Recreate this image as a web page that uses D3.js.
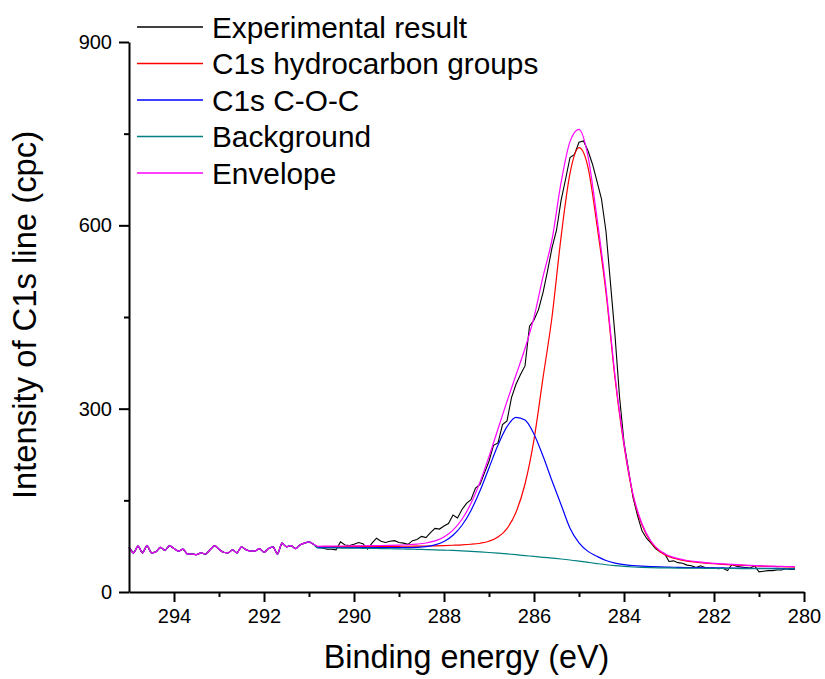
<!DOCTYPE html>
<html>
<head>
<meta charset="utf-8">
<script src="https://cdn.jsdelivr.net/npm/d3@7"></script>
<style>
  html, body { margin: 0; padding: 0; background: #fff; }
  svg { display: block; font-family: "Liberation Sans", Arial, sans-serif; }
</style>
</head>
<body>
<svg id="chart" width="825" height="679"></svg>
<script>
// ---------------- DATA ----------------
const seriesNames = ["Experimental result", "C1s hydrocarbon groups", "C1s C-O-C", "Background", "Envelope"];
const seriesColors = ["#000000", "#ff0000", "#0000ff", "#008080", "#ff00ff"];

const xTickMajor = [294, 292, 290, 288, 286, 284, 282, 280];
const xTickMinor = [293, 291, 289, 287, 285, 283, 281];
const yTickMajor = [0, 300, 600, 900];
const yTickMinor = [150, 450, 750];

const expEnergy = [
  295.0,294.9,294.8,294.7,294.6,294.5,294.4,294.3,294.2,294.1,
  294.0,293.9,293.8,293.7,293.6,293.5,293.4,293.3,293.2,293.1,
  293.0,292.9,292.8,292.7,292.6,292.5,292.4,292.3,292.2,292.1,
  292.0,291.9,291.8,291.7,291.6,291.5,291.4,291.3,291.2,291.1,
  291.0,290.9,290.8,290.7,290.6,290.5,290.4,290.3,290.2,290.1,
  290.0,289.9,289.8,289.7,289.6,289.5,289.4,289.3,289.2,289.1,
  289.0,288.9,288.8,288.7,288.6,288.5,288.4,288.3,288.2,288.1,
  288.0,287.9,287.8,287.7,287.6,287.5,287.4,287.3,287.2,287.1,
  287.0,286.9,286.8,286.7,286.6,286.5,286.4,286.3,286.2,286.1,
  286.0,285.9,285.8,285.7,285.6,285.5,285.4,285.3,285.2,285.1,
  285.0,284.9,284.8,284.7,284.6,284.5,284.4,284.3,284.2,284.1,
  284.0,283.9,283.8,283.7,283.6,283.5,283.4,283.3,283.2,283.1,
  283.0,282.9,282.8,282.7,282.6,282.5,282.4,282.3,282.2,282.1,
  282.0,281.9,281.8,281.7,281.6,281.5,281.4,281.3,281.2,281.1,
  281.0,280.9,280.8,280.7,280.6,280.5,280.4,280.3,280.2
];
const expIntensity = [
  73,64,75,64,76,64,66,73,68,76,
  71,67,70,62,62,61,64,62,69,76,
  70,65,64,69,64,74,69,67,67,71,
  65,71,74,62,80,74,76,71,77,80,
  82,78,73,72,70,70,69,82,77,76,
  78,81,79,70,80,88,83,81,83,84,
  81,80,78,84,86,91,89,97,104,103,
  108,112,126,121,135,145,151,170,176,195,
  214,240,244,274,280,318,340,356,370,435,
  445,462,490,525,563,592,640,675,711,716,
  736,738,722,700,672,643,590,505,420,320,
  245,200,155,125,100,88,80,71,66,63,
  50,51,48,47,44,43,40,43,40,39,
  39,38,39,35,45,42,41,40,39,43,
  33,34,35,35,36,36,38,37,37
];

const fitEnergy = [
  290.8,290.6,290.4,290.2,290.0,289.8,289.6,289.4,289.2,289.0,
  288.8,288.6,288.4,288.2,288.0,287.8,287.6,287.4,287.2,287.0,
  286.8,286.6,286.4,286.2,286.0,285.8,285.6,285.4,285.2,285.0,
  284.8,284.6,284.4,284.2,284.0,283.8,283.6,283.4,283.2,283.0,
  282.8,282.6,282.4,282.2,282.0,281.8,281.6,281.4,281.2,281.0,
  280.8,280.6,280.4,280.2
];
const hydrocarbon = [
  74.1,74.2,74.4,74.4,74.5,74.5,74.6,74.6,74.7,74.8,
  74.9,75.1,75.3,75.6,76.0,76.5,77.1,78.1,79.8,83.1,
  89.9,103.8,130.4,176.7,249.4,350.3,450.0,580.0,685.0,727.0,
  695.0,600.0,490.0,350.0,240.0,158.0,109.7,81.4,66.0,57.9,
  53.4,50.6,48.7,47.3,46.2,45.2,44.4,43.7,43.0,42.5,
  42.0,41.6,41.2,40.8
];
const cocGroup = [
  72.7,72.8,72.9,72.7,72.7,72.7,72.6,72.5,72.5,72.5,
  72.6,73.1,74.3,77.1,82.6,92.8,109.2,133.5,165.6,203.0,
  240.4,270.5,285.7,281.3,258.3,222.5,182.0,143.3,104.4,80.5,
  66.5,58.4,51.5,47.3,44.7,43.2,42.2,41.5,41.0,40.7,
  40.3,40.0,39.8,39.7,39.5,39.4,39.2,39.1,38.9,38.8,
  38.6,38.5,38.4,38.3
];
const background = [
  72.0,72.0,72.0,71.8,71.7,71.5,71.3,71.0,70.8,70.5,
  70.2,69.8,69.4,69.0,68.5,68.0,67.3,66.5,65.6,64.6,
  63.5,62.3,61.0,59.6,58.2,56.8,55.4,54.0,52.4,50.5,
  48.5,46.5,44.6,43.0,41.8,40.9,40.3,39.9,39.6,39.4,
  39.2,39.0,38.9,38.8,38.7,38.6,38.5,38.4,38.3,38.2,
  38.1,38.0,37.9,37.8
];
const envelope = [
  74.8,75.0,75.3,75.3,75.5,75.7,75.9,76.1,76.4,76.8,
  77.3,78.4,80.2,83.7,90.1,101.3,119.0,145.1,179.8,221.5,
  266.8,312.0,355.1,398.4,449.5,516.0,576.6,669.3,737.0,757.0,
  713.0,612.0,497.0,354.3,243.0,160.3,111.6,83.0,67.4,59.2,
  54.5,51.6,49.6,48.2,47.0,46.0,45.1,44.4,43.6,43.1,
  42.5,42.1,41.7,41.3
];

// ---------------- LAYOUT ----------------
const svg = d3.select("#chart");
const x = d3.scaleLinear().domain([295, 280]).range([129, 804]);
const y = d3.scaleLinear().domain([0, 900]).range([592, 42]);

// ---------------- SERIES ----------------
// Before the fit window (BE > 290.8) all fitted curves follow the measured points.
const preFit = expEnergy.map((e, i) => [e, expIntensity[i]]).filter(d => d[0] > 290.8 + 1e-9);
const fitSeries = [hydrocarbon, cocGroup, background, envelope].map(arr =>
  preFit.concat(fitEnergy.map((e, i) => [e, arr[i]])));

const expLine = d3.line().x(d => x(d[0])).y(d => y(d[1]));
const fitLine = d3.line().x(d => x(d[0])).y(d => y(d[1])).curve(d3.curveMonotoneX);

const plot = svg.append("g");
plot.append("path")
  .datum(expEnergy.map((e, i) => [e, expIntensity[i]]))
  .attr("fill", "none").attr("stroke", seriesColors[0]).attr("stroke-width", 1.1)
  .attr("d", expLine);
fitSeries.forEach((s, k) => {
  plot.append("path").datum(s)
    .attr("fill", "none").attr("stroke", seriesColors[k + 1]).attr("stroke-width", 1.2)
    .attr("d", fitLine);
});

// ---------------- AXES ----------------
function styleAxis(g) {
  g.selectAll("path.domain").attr("stroke", "#000").attr("stroke-width", 2);
  g.selectAll(".tick line").attr("stroke", "#000").attr("stroke-width", 2);
  g.selectAll(".tick text").attr("font-size", 20).attr("fill", "#000")
    .attr("font-family", "'Liberation Sans', Arial, sans-serif");
}

const xAxisG = svg.append("g").attr("transform", "translate(0,592)")
  .call(d3.axisBottom(x).tickValues(xTickMajor).tickSize(10).tickSizeOuter(0).tickPadding(7).tickFormat(d3.format("d")));
styleAxis(xAxisG);
const xMinorG = svg.append("g").attr("transform", "translate(0,592)")
  .call(d3.axisBottom(x).tickValues(xTickMinor).tickSize(5).tickSizeOuter(0).tickFormat(""));
styleAxis(xMinorG);
xMinorG.select("path.domain").remove();

const yAxisG = svg.append("g").attr("transform", "translate(129,0)")
  .call(d3.axisLeft(y).tickValues(yTickMajor).tickSize(10).tickSizeOuter(0).tickPadding(7).tickFormat(d3.format("d")));
styleAxis(yAxisG);
const yMinorG = svg.append("g").attr("transform", "translate(129,0)")
  .call(d3.axisLeft(y).tickValues(yTickMinor).tickSize(5).tickSizeOuter(0).tickFormat(""));
styleAxis(yMinorG);
yMinorG.select("path.domain").remove();

// axis titles
svg.append("text")
  .attr("x", (x.range()[0] + x.range()[1]) / 2).attr("y", 668)
  .attr("text-anchor", "middle").attr("font-size", 32.3).attr("fill", "#000")
  .text("Binding energy (eV)");
svg.append("text")
  .attr("transform", "translate(36,315) rotate(-90)")
  .attr("text-anchor", "middle").attr("font-size", 32.8).attr("fill", "#000")
  .text("Intensity of C1s line (cpc)");

// ---------------- LEGEND ----------------
const legend = svg.append("g").attr("transform", "translate(137,27)");
seriesNames.forEach((name, i) => {
  const row = legend.append("g").attr("transform", "translate(0," + (i * 36.5) + ")");
  row.append("line").attr("x1", 0).attr("x2", 66).attr("y1", 0).attr("y2", 0)
    .attr("stroke", seriesColors[i]).attr("stroke-width", 1.3);
  row.append("text").attr("x", 75).attr("y", 0).attr("dy", "0.36em")
    .attr("font-size", 29.8).attr("fill", "#000").text(name);
});
</script>
</body>
</html>
